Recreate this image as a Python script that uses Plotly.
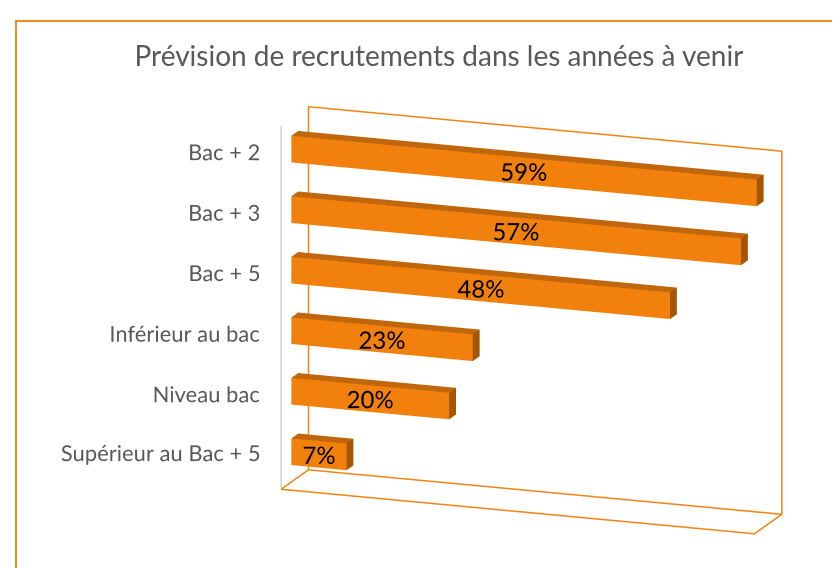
import plotly.graph_objects as go

# données
categories = ["Bac + 2", "Bac + 3", "Bac + 5", "Inférieur au bac", "Niveau bac", "Supérieur au Bac + 5"]
values = [0.59, 0.57, 0.48, 0.23, 0.20, 0.07]
labels = ["59%", "57%", "48%", "23%", "20%", "7%"]

ORANGE = "#F2800C"
TOP = "#C0660C"
SIDE = "#A25606"
EDGE = "#F2830F"
GREY_TXT = "#595959"
FONT = "Lato"

n = len(categories)
zpos = [n - 1 - k for k in range(n)]
xmax = 0.6
zmin, zmax = -0.5, n - 0.5
yf, yb = 0.375, 0.625   # profondeur des barres
h = 0.22                # demi-hauteur des barres


def add_quad(mesh, pts):
    base = len(mesh["x"])
    for p in pts:
        mesh["x"].append(p[0])
        mesh["y"].append(p[1])
        mesh["z"].append(p[2])
    mesh["i"] += [base, base]
    mesh["j"] += [base + 1, base + 2]
    mesh["k"] += [base + 2, base + 3]


front = {"x": [], "y": [], "z": [], "i": [], "j": [], "k": []}
top = {"x": [], "y": [], "z": [], "i": [], "j": [], "k": []}
side = {"x": [], "y": [], "z": [], "i": [], "j": [], "k": []}

for v, zc in zip(values, zpos):
    lo, hi = zc - h, zc + h
    add_quad(front, [(0, yf, lo), (v, yf, lo), (v, yf, hi), (0, yf, hi)])
    add_quad(top, [(0, yf, hi), (v, yf, hi), (v, yb, hi), (0, yb, hi)])
    add_quad(side, [(v, yf, lo), (v, yb, lo), (v, yb, hi), (v, yf, hi)])

fig = go.Figure()

flat = dict(ambient=1, diffuse=0, specular=0, roughness=1, fresnel=0)
for m, col in [(front, ORANGE), (top, TOP), (side, SIDE)]:
    fig.add_trace(go.Mesh3d(**m, color=col, flatshading=True, lighting=flat,
                            hoverinfo="skip", showscale=False))

# mur du fond et plancher
fig.add_trace(go.Scatter3d(
    x=[0, xmax, xmax, 0, 0, None, 0, xmax, xmax, None, 0, 0],
    y=[1, 1, 1, 1, 1, None, 0, 0, 1, None, 0, 1],
    z=[zmin, zmin, zmax, zmax, zmin, None, zmin, zmin, zmin, None, zmin, zmin],
    mode="lines", line=dict(color=EDGE, width=3), hoverinfo="skip"
))
# axe vertical gris
fig.add_trace(go.Scatter3d(
    x=[0, 0], y=[0, 0], z=[zmin, zmax],
    mode="lines", line=dict(color="#D0D0D0", width=3), hoverinfo="skip"
))

# étiquettes de catégories
fig.add_trace(go.Scatter3d(
    x=[0] * n, y=[0] * n, z=[z + 0.07 for z in zpos],
    mode="text", text=[c + "   " for c in categories], textposition="middle left",
    textfont=dict(family=FONT, size=22, color=GREY_TXT), hoverinfo="skip"
))

# étiquettes de valeurs (avancées vers l'avant pour ne pas être masquées)
dy = 0.3
fig.add_trace(go.Scatter3d(
    x=[v / 2 + 0.034 * dy for v in values], y=[yf - dy] * n, z=[z + 0.32 * dy for z in zpos],
    mode="text", text=labels, textposition="middle center",
    textfont=dict(family=FONT, size=24, color="black"), hoverinfo="skip"
))

hidden = dict(visible=False, showgrid=False, zeroline=False, showspikes=False)
pad = 0.03
k = 1.6
cx, cy, cz = -0.325, -0.118, -0.075
fig.update_layout(
    width=840, height=568,
    margin=dict(l=0, r=0, t=0, b=0),
    paper_bgcolor="white",
    showlegend=False,
    title=dict(text="Prévision de recrutements dans les années à venir",
               x=0.513, xanchor="center", y=1 - 48 / 568, yanchor="middle",
               font=dict(family=FONT, size=28, color=GREY_TXT)),
    scene=dict(
        domain=dict(x=[0.05, 1.0], y=[0.0, 0.84]),
        xaxis=dict(range=[-xmax * pad, xmax * (1 + pad)], **hidden),
        yaxis=dict(range=[-pad, 1 + pad], **hidden),
        zaxis=dict(range=[zmin - 6 * pad, zmax + 6 * pad], **hidden),
        aspectmode="manual",
        aspectratio=dict(x=1.32 * k * (1 + 2 * pad), y=0.21 * k * (1 + 2 * pad),
                         z=0.985 * k * (1 + 2 * pad)),
        bgcolor="white",
        camera=dict(
            eye=dict(x=0.385 + cx, y=-1.058 + cy, z=0.301 + cz),
            up=dict(x=0, y=0, z=1),
            center=dict(x=cx, y=cy, z=cz),
            projection=dict(type="orthographic"),
        ),
    ),
    shapes=[dict(type="rect", xref="paper", yref="paper",
                 x0=8 / 840, x1=1.02, y0=-0.05, y1=1 - 13 / 568,
                 line=dict(color="#F28A1E", width=2))],
)

fig.write_html("out.html")
